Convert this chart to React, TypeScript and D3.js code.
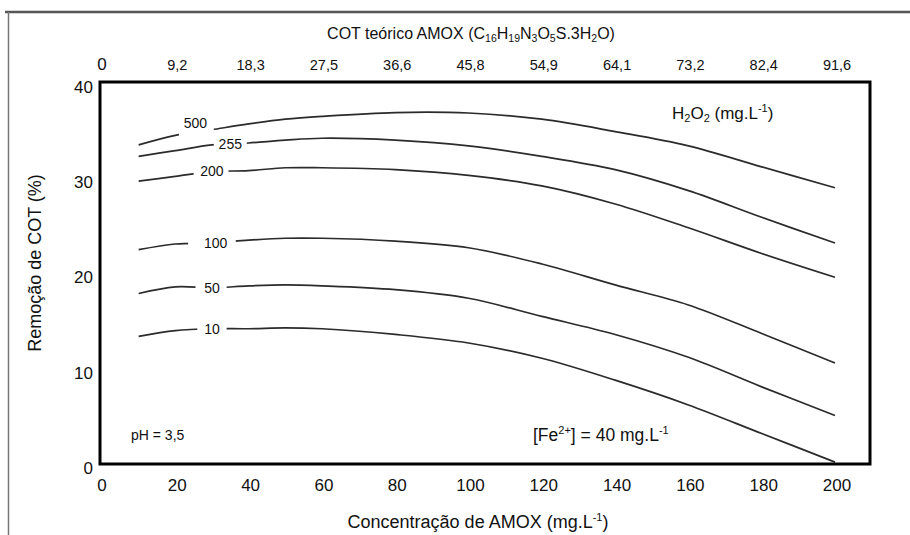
import * as d3 from 'd3';
import React from 'react';

// AMOX concentration (mg/L) where the curves were read
const concentrations = [10, 20, 30, 40, 50, 60, 80, 100, 120, 140, 160, 180, 200];

// COT removal (%) for each H2O2 dose (mg/L)
const rem500 = [33.5, 34.5, 35.1, 35.7, 36.2, 36.5, 36.9, 36.85, 36.2, 34.9, 33.4, 31.2, 29.0];
const rem255 = [32.3, 32.9, 33.5, 33.7, 34.0, 34.2, 34.0, 33.4, 32.3, 30.9, 28.7, 25.9, 23.2];
const rem200 = [29.7, 30.2, 30.7, 30.8, 31.1, 31.1, 30.9, 30.3, 29.2, 27.3, 24.8, 22.1, 19.6];
const rem100 = [22.5, 23.1, 23.2, 23.5, 23.7, 23.7, 23.4, 22.7, 21.0, 18.8, 16.7, 13.7, 10.6];
const rem50 = [17.9, 18.6, 18.5, 18.7, 18.8, 18.7, 18.3, 17.4, 15.5, 13.6, 11.2, 8.1, 5.1];
const rem10 = [13.4, 14.0, 14.2, 14.2, 14.3, 14.2, 13.6, 12.7, 11.1, 8.8, 6.2, 3.2, 0.2];

const doses = ['500', '255', '200', '100', '50', '10'];
const seriesValues = [rem500, rem255, rem200, rem100, rem50, rem10];

// axis ticks
const bottomTicks = [0, 20, 40, 60, 80, 100, 120, 140, 160, 180, 200];
const topTickLabels = ['0', '9,2', '18,3', '27,5', '36,6', '45,8', '54,9', '64,1', '73,2', '82,4', '91,6'];
const yTicks = [0, 10, 20, 30, 40];

// where each curve label sits (data x) and the gap cut out of the line
const labelPlaces = [
  { x: 25.5, from: 21, to: 30.5, dy: -9 },
  { x: 35, from: 30.5, to: 39.5, dy: 0 },
  { x: 30, from: 25, to: 34.5, dy: 0 },
  { x: 31, from: 23.5, to: 36.5, dy: 0 },
  { x: 30, from: 25.5, to: 34, dy: 0 },
  { x: 30, from: 26, to: 34, dy: 0 },
];

const font = "'Liberation Sans', Arial, sans-serif";
const narrow = "'Liberation Sans Narrow', 'Liberation Sans', Arial, sans-serif";

const App = () => {
  const x = d3.scaleLinear().domain([0, 200]).range([102, 835]);
  const y = d3.scaleLinear().domain([0, 40]).range([464, 83]);

  const frame = { left: 100, top: 82, right: 870, bottom: 464 };

  const line = d3
    .line<number>()
    .x((_, i) => x(concentrations[i]))
    .y((d) => y(d))
    .curve(d3.curveCatmullRom);

  // y of a curve at data x (for label placement)
  const valueAt = (vals: number[], cx: number) => {
    const i = Math.max(1, d3.bisectLeft(concentrations, cx));
    const x0 = concentrations[i - 1], x1 = concentrations[i];
    const t = (cx - x0) / (x1 - x0);
    return vals[i - 1] + t * (vals[i] - vals[i - 1]);
  };

  return (
    <svg width={910} height={535} style={{ position: 'absolute', left: 0, top: 0, background: '#fff' }}>
      {/* outer page border */}
      <line x1={5} x2={910} y1={12} y2={12} stroke="#555" strokeWidth={2.5} />
      <line x1={8.5} x2={8.5} y1={12} y2={535} stroke="#777" strokeWidth={1.5} />

      {/* curves */}
      {seriesValues.map((vals, k) => {
        const lp = labelPlaces[k];
        const gx0 = x(lp.from);
        const gx1 = x(lp.to);
        const gy = y(valueAt(vals, (lp.from + lp.to) / 2));
        return (
          <g key={doses[k]}>
            <path d={line(vals) || ''} fill="none" stroke="#2b2b2b" strokeWidth={1.7} />
            <rect x={gx0} y={gy - 6} width={gx1 - gx0} height={12} fill="#fff" />
            <text
              x={x(lp.x)}
              y={y(valueAt(vals, lp.x)) + lp.dy}
              dy="0.35em"
              textAnchor="middle"
              fontFamily={font}
              fontSize={14}
              fill="#111"
            >
              {doses[k]}
            </text>
          </g>
        );
      })}

      {/* frame */}
      <rect
        x={frame.left}
        y={frame.top}
        width={frame.right - frame.left}
        height={frame.bottom - frame.top}
        fill="none"
        stroke="#000"
        strokeWidth={3}
      />

      {/* y ticks */}
      {yTicks.map((t) => (
        <text key={t} x={93} y={y(t) + 4} dy="0.35em" textAnchor="end" fontFamily={font} fontSize={17} fill="#111">
          {t}
        </text>
      ))}

      {/* bottom ticks */}
      {bottomTicks.map((t) => (
        <text key={t} x={x(t) + (t === 0 ? 0 : 2)} y={491} textAnchor="middle" fontFamily={font} fontSize={17} fill="#111">
          {t}
        </text>
      ))}

      {/* top ticks */}
      {bottomTicks.map((t, i) => (
        <text
          key={'top' + t}
          x={x(t) + (i === 0 ? 0 : 2)}
          y={70}
          textAnchor="middle"
          fontFamily={i === 0 ? font : narrow}
          fontSize={i === 0 ? 17 : 14.5}
          fill="#111"
        >
          {topTickLabels[i]}
        </text>
      ))}

      {/* top axis title */}
      <text x={471} y={39} textAnchor="middle" fontFamily={font} fontSize={16} fill="#111">
        COT teórico AMOX (C
        <tspan fontSize={10.5} dy={3}>16</tspan>
        <tspan dy={-3}>H</tspan>
        <tspan fontSize={10.5} dy={3}>19</tspan>
        <tspan dy={-3}>N</tspan>
        <tspan fontSize={10.5} dy={3}>3</tspan>
        <tspan dy={-3}>O</tspan>
        <tspan fontSize={10.5} dy={3}>5</tspan>
        <tspan dy={-3}>S.3H</tspan>
        <tspan fontSize={10.5} dy={3}>2</tspan>
        <tspan dy={-3}>O)</tspan>
      </text>

      {/* bottom axis title */}
      <text x={478} y={528} textAnchor="middle" fontFamily={font} fontSize={18} fill="#111">
        Concentração de AMOX (mg.L
        <tspan fontSize={11} dy={-7}>-1</tspan>
        <tspan dy={7}>)</tspan>
      </text>

      {/* y axis title */}
      <text
        transform="translate(41,263) rotate(-90)"
        textAnchor="middle"
        fontFamily={font}
        fontSize={18}
        fill="#111"
      >
        Remoção de COT (%)
      </text>

      {/* annotations */}
      <text x={672} y={119} fontFamily={font} fontSize={17} fill="#111">
        H<tspan fontSize={11} dy={3}>2</tspan>
        <tspan dy={-3}>O</tspan>
        <tspan fontSize={11} dy={3}>2</tspan>
        <tspan dy={-3}> (mg.L</tspan>
        <tspan fontSize={11} dy={-7}>-1</tspan>
        <tspan dy={7}>)</tspan>
      </text>
      <text x={131} y={440} fontFamily={narrow} fontSize={14} fill="#111">
        pH = 3,5
      </text>
      <text x={533} y={441} fontFamily={font} fontSize={17.5} fill="#111">
        [Fe<tspan fontSize={11} dy={-7}>2+</tspan>
        <tspan dy={7}>] = 40 mg.L</tspan>
        <tspan fontSize={11} dy={-7}>-1</tspan>
      </text>
    </svg>
  );
};

export default App;
